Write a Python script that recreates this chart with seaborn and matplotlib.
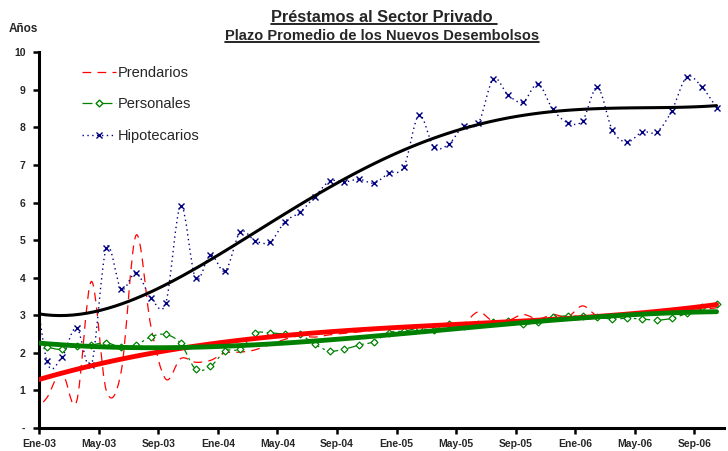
import numpy as np
import matplotlib
matplotlib.use("Agg")
import matplotlib.pyplot as plt
import seaborn as sns
from matplotlib.path import Path
from matplotlib.patches import PathPatch
from matplotlib.lines import Line2D

# --- Datos (mensuales, Dic-02 a Oct-06; Dic-02 queda recortado por el eje) ---
meses = np.arange(-0.5, 46, 1.0)  # posición centrada en cada mes
tick_pos = list(range(0, 45, 4))
tick_labels = ["Ene-03", "May-03", "Sep-03", "Ene-04", "May-04", "Sep-04",
               "Ene-05", "May-05", "Sep-05", "Ene-06", "May-06", "Sep-06"]

prendarios = [0.43, 0.80, 1.50, 0.70, 3.90, 1.00, 1.50, 5.13, 2.70, 1.30, 1.85, 1.75,
              1.80, 2.00, 2.02, 2.08, 2.22, 2.36, 2.45, 2.42, 2.48, 2.52, 2.56, 2.60,
              2.63, 2.65, 2.68, 2.72, 2.75, 2.78, 3.09, 2.84, 2.86, 3.02, 2.90, 3.02,
              2.96, 3.25, 2.98, 3.00, 3.02, 3.04, 3.06, 3.09, 3.12, 3.15, 3.20]
personales = [2.30, 2.16, 2.09, 2.18, 2.21, 2.27, 2.15, 2.21, 2.43, 2.49, 2.25, 1.57,
              1.64, 2.05, 2.10, 2.52, 2.53, 2.50, 2.49, 2.23, 2.05, 2.10, 2.21, 2.30,
              2.54, 2.58, 2.65, 2.61, 2.78, 2.71, 2.76, 2.82, 2.85, 2.76, 2.83, 2.96,
              2.98, 2.97, 2.95, 2.90, 2.92, 2.90, 2.87, 2.92, 3.05, 3.21, 3.29]
hipotecarios = [4.70, 1.79, 1.88, 2.67, 1.68, 4.79, 3.70, 4.13, 3.47, 3.33, 5.92, 3.98,
                4.61, 4.18, 5.22, 4.98, 4.95, 5.49, 5.74, 6.15, 6.57, 6.55, 6.62, 6.52,
                6.79, 6.95, 8.33, 7.49, 7.55, 8.04, 8.11, 9.29, 8.86, 8.68, 9.16, 8.48,
                8.13, 8.18, 9.07, 7.93, 7.61, 7.88, 7.88, 8.45, 9.35, 9.08, 8.53]

ROJO = "#FF0000"
VERDE = "#008000"
AZUL = "#000080"


def curva_suave(x, y):
    # línea suavizada tipo Excel (Bezier por tramos)
    pts = np.column_stack([x, y])
    n = len(pts)
    verts = [pts[0]]
    codes = [Path.MOVETO]
    for i in range(n - 1):
        p0 = pts[i - 1] if i > 0 else pts[i]
        p1, p2 = pts[i], pts[i + 1]
        p3 = pts[i + 2] if i + 2 < n else pts[i + 1]
        verts += [p1 + (p2 - p0) / 6, p2 - (p3 - p1) / 6, p2]
        codes += [Path.CURVE4] * 3
    return Path(verts, codes)


sns.set_theme(style="white")
plt.rcParams["font.family"] = ["Liberation Sans", "DejaVu Sans"]

fig = plt.figure(figsize=(7.28, 4.51), dpi=100)
ax = fig.add_axes([39.3 / 728, 23 / 451, (724 - 39.3) / 728, 375.7 / 451])
ax.set_xlim(0, 46)
ax.set_ylim(0, 10)

# series suavizadas
ax.add_patch(PathPatch(curva_suave(meses, prendarios), fill=False, edgecolor=ROJO,
                       lw=0.9, linestyle=(0, (7, 5)), zorder=2))
ax.add_patch(PathPatch(curva_suave(meses, personales), fill=False, edgecolor=VERDE,
                       lw=0.9, linestyle=(0, (8, 3, 2, 3)), zorder=2))
ax.add_patch(PathPatch(curva_suave(meses, hipotecarios), fill=False, edgecolor=AZUL,
                       lw=1.0, linestyle=(0, (1, 2.5)), zorder=2))

# marcadores
ax.plot(meses, personales, linestyle="none", marker="D", markersize=3.5,
        markerfacecolor="white", markeredgecolor=VERDE, markeredgewidth=0.9, zorder=3)
ax.plot(meses, hipotecarios, linestyle="none", marker="x", markersize=5,
        color=AZUL, markeredgewidth=1.0, zorder=3)

# líneas de tendencia
sns.regplot(x=meses, y=prendarios, order=3, ci=None, scatter=False, truncate=True,
            line_kws=dict(color=ROJO, lw=3.5, zorder=4), ax=ax)
sns.regplot(x=meses, y=personales, order=3, ci=None, scatter=False, truncate=True,
            line_kws=dict(color=VERDE, lw=3.5, zorder=5), ax=ax)
sns.regplot(x=meses, y=hipotecarios, order=4, ci=None, scatter=False, truncate=True,
            line_kws=dict(color="black", lw=2.2, zorder=5), ax=ax)
ax.set_xlim(0, 46)
ax.set_ylim(0, 10)

# ejes
for s in ["top", "right"]:
    ax.spines[s].set_visible(False)
for s in ["left", "bottom"]:
    ax.spines[s].set_color("black")
    ax.spines[s].set_linewidth(2.2)
ax.set_yticks(range(0, 11))
ax.set_yticklabels(["-"] + [str(i) for i in range(1, 11)])
ax.set_xticks(tick_pos)
ax.set_xticklabels(tick_labels)
ax.tick_params(axis="both", which="major", direction="out", length=4, width=1.8,
               color="black", labelsize=7.5, pad=4, left=True, bottom=True)
ax.tick_params(axis="y", pad=6)
for lab in ax.get_xticklabels() + ax.get_yticklabels():
    lab.set_fontweight("bold")
ax.set_xlabel("")
ax.set_ylabel("")
ax.grid(False)

fig.text(9 / 728, 1 - 29 / 451, "Años", fontsize=8.5, fontweight="bold", va="center", ha="left")

# leyenda
handles = [
    Line2D([], [], color=ROJO, lw=0.9, linestyle=(0, (7, 5))),
    Line2D([], [], color=VERDE, lw=0.9, linestyle=(0, (8, 3, 2, 3)), marker="D",
           markersize=3.5, markerfacecolor="white", markeredgecolor=VERDE),
    Line2D([], [], color=AZUL, lw=1.0, linestyle=(0, (1, 2.5)), marker="x",
           markersize=5, markeredgewidth=1.0),
]
ax.legend(handles, ["Prendarios", "Personales", "Hipotecarios"], loc="upper left",
          bbox_to_anchor=(82 / 728, 1 - 66 / 451), bbox_transform=fig.transFigure,
          frameon=False, fontsize=10.5, handlelength=2.3, handletextpad=0.15,
          labelspacing=1.2, borderpad=0, borderaxespad=0)

# títulos subrayados
t1 = fig.text(384 / 728, 1 - 22.5 / 451, "Préstamos al Sector Privado ", fontsize=11.8,
              fontweight="bold", ha="center", va="baseline")
t2 = fig.text(382 / 728, 1 - 39.5 / 451, "Plazo Promedio de los Nuevos Desembolsos",
              fontsize=10.5, fontweight="bold", ha="center", va="baseline")
fig.canvas.draw()
r = fig.canvas.get_renderer()
for t, yb in [(t1, 24.2), (t2, 41.5)]:
    bb = t.get_window_extent(r)
    yline = 1 - yb / 451
    fig.add_artist(Line2D([bb.x0 / fig.bbox.width, bb.x1 / fig.bbox.width], [yline, yline],
                          transform=fig.transFigure, color="black", lw=1.2))

fig.savefig("out.png", dpi=100, facecolor="white")
